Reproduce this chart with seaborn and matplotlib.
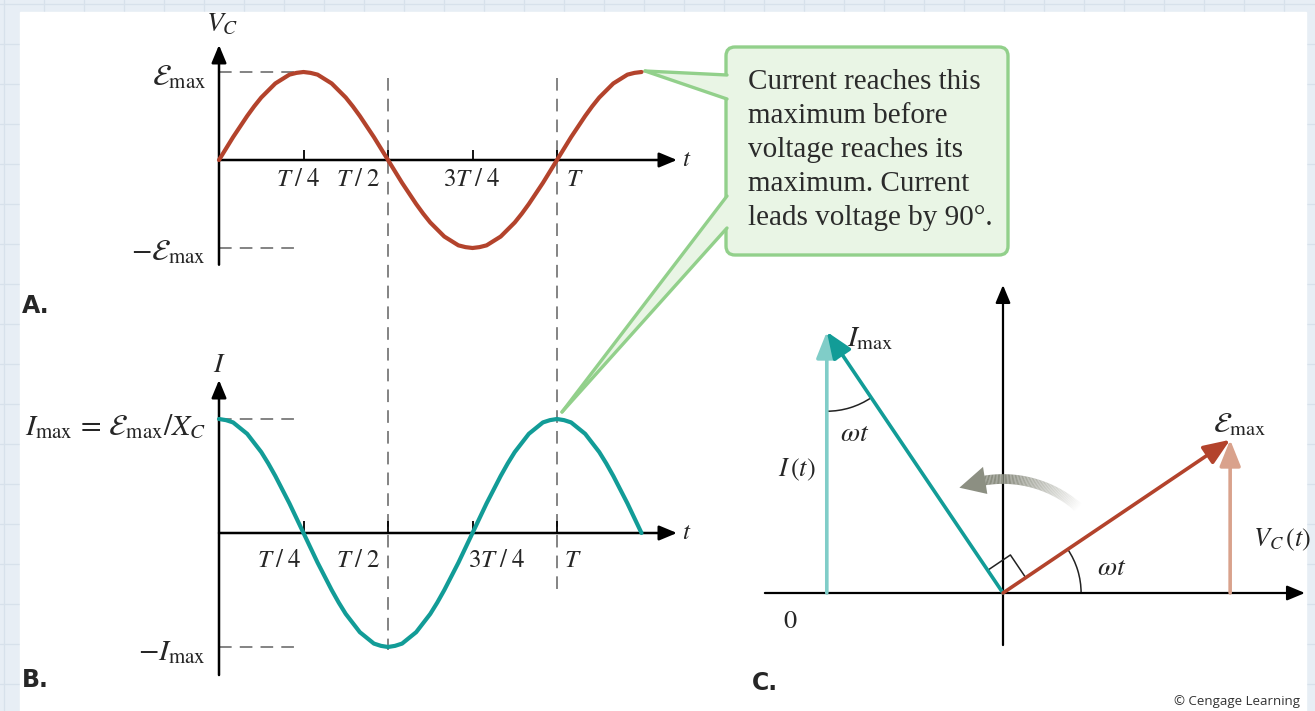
import numpy as np
import matplotlib
matplotlib.use("Agg")
import matplotlib.pyplot as plt
import seaborn as sns
from matplotlib.patches import Rectangle, FancyBboxPatch, Polygon, Arc
from matplotlib.collections import LineCollection

# ---------------- values ----------------
# curves sampled every T/48, both run from 0 to 1.25 T
t_frac = np.arange(61) / 48
vc_vals = [0, .13, .26, .38, .5, .61, .71, .79, .87, .92, .97, .99, 1,
           .99, .97, .92, .87, .79, .71, .61, .5, .38, .26, .13, 0,
           -.13, -.26, -.38, -.5, -.61, -.71, -.79, -.87, -.92, -.97, -.99, -1,
           -.99, -.97, -.92, -.87, -.79, -.71, -.61, -.5, -.38, -.26, -.13, 0,
           .13, .26, .38, .5, .61, .71, .79, .87, .92, .97, .99, 1]
i_vals = [1, .99, .97, .92, .87, .79, .71, .61, .5, .38, .26, .13, 0,
          -.13, -.26, -.38, -.5, -.61, -.71, -.79, -.87, -.92, -.97, -.99, -1,
          -.99, -.97, -.92, -.87, -.79, -.71, -.61, -.5, -.38, -.26, -.13, 0,
          .13, .26, .38, .5, .61, .71, .79, .87, .92, .97, .99, 1,
          .99, .97, .92, .87, .79, .71, .61, .5, .38, .26, .13, 0]
tick_pos = [0.25, 0.5, 0.75, 1.0]
tick_labels = [r"$T\;/\;4$", r"$T\;/\;2$", r"$3T\;/\;4$", r"$T$"]
guide_t = [0.5, 1.0]

# phasor diagram
omega_t_deg = 34
e_max_len = 1.0
i_max_len = 1.15

callout_lines = ["Current reaches this", "maximum before", "voltage reaches its",
                 "maximum. Current", "leads voltage by 90\u00b0."]

RED = "#b3432c"
TEAL = "#129c97"
LIGHT_TEAL = "#80cdc8"
SALMON = "#d9a28c"
DASH = "#7a7a7a"

sns.set_style("white")
plt.rcParams["mathtext.fontset"] = "stix"
plt.rcParams["font.family"] = ["Liberation Serif", "DejaVu Serif"]

W, H = 1315, 711
fig = plt.figure(figsize=(W / 100, H / 100), dpi=100)

# background: graph paper with a white sheet on top
bg = fig.add_axes([0, 0, 1, 1])
bg.set_xlim(0, W)
bg.set_ylim(H, 0)
bg.axis("off")
bg.add_patch(Rectangle((0, 0), W, H, color="#e7eef5", zorder=0))
for gx in range(4, W, 40):
    bg.axvline(gx, color="#d7e1eb", lw=0.9, zorder=0.5)
for gy in range(4, H, 40):
    bg.axhline(gy, color="#d7e1eb", lw=0.9, zorder=0.5)
bg.add_patch(Rectangle((20, 12), 1286, 710, color="white", zorder=1))


def px_axes(box, origin, sx, sy):
    x0, y0, x1, y1 = box
    ax = fig.add_axes([x0 / W, 1 - y1 / H, (x1 - x0) / W, (y1 - y0) / H])
    ax.patch.set_visible(False)
    ax.set_xlim((x0 - origin[0]) / sx, (x1 - origin[0]) / sx)
    ax.set_ylim((origin[1] - y1) / sy, (origin[1] - y0) / sy)
    return ax


def arrow(ax, start, end, color="black", lw=1.8, style="-|>,head_length=0.6,head_width=0.25", ms=18, z=2):
    ax.annotate("", xy=end, xytext=start, annotation_clip=False, zorder=z,
                arrowprops=dict(arrowstyle=style, color=color, lw=lw, mutation_scale=ms,
                                shrinkA=0, shrinkB=0))


axA = px_axes((100, 14, 720, 300), (219, 160), 338, 88)
axB = px_axes((100, 350, 720, 700), (219, 533), 338, 114)

# ---------------- panels A and B ----------------
bg.vlines([219 + 338 * g for g in guide_t], 78, [650, 592], colors=DASH, lw=1.3,
          linestyles=(0, (7, 4.5)), zorder=2)

panels = [
    (axA, vc_vals, RED, [1.307, -1.19], [-0.227, [0.234, 0.411, 0.746, 1.053]],
     [(0.94, r"$\mathcal{E}_{\mathrm{max}}$"), (-1.045, r"$-\mathcal{E}_{\mathrm{max}}$")],
     (0.01, 1.534, r"$V_C$"), 0.114, [0.24, 0.234]),
    (axB, i_vals, TEAL, [1.342, -1.246], [-0.246, [0.178, 0.411, 0.822, 1.047]],
     [(0.93, r"$I_{\mathrm{max}}\,=\,\mathcal{E}_{\mathrm{max}}/X_C$"), (-1.05, r"$-I_{\mathrm{max}}$")],
     (0.0, 1.47, r"$I$"), 0.105, [0.24, 0.24]),
]
for ax, vals, col, yext, (lab_y, lab_x), side, ylab, tlen, dash_end in panels:
    sns.lineplot(x=t_frac, y=vals, ax=ax, color=col, linewidth=3.0, legend=False, zorder=3)
    ax.axis("off")
    arrow(ax, (0, yext[1]), (0, yext[0]))
    arrow(ax, (0, 0), (1.355, 0))
    ax.text(1.37, 0, r"$t$", ha="left", va="center", fontsize=18)
    ax.vlines(tick_pos, 0, tlen, colors="black", lw=1.3, zorder=2)
    ax.hlines([1, -1], 0, dash_end, colors=DASH, lw=1.3, linestyles=(0, (7, 4.5)), zorder=1)
    for x, lab in zip(lab_x, tick_labels):
        ax.text(x, lab_y, lab, ha="center", va="center", fontsize=18)
    for y, lab in side:
        ax.text(-0.038, y, lab, ha="right", va="center", fontsize=21.5)
    ax.text(ylab[0], ylab[1], ylab[2], ha="center", va="center", fontsize=20)

for x, y, lab in [(22, 306, "A."), (22, 680, "B."), (752, 683, "C.")]:
    bg.text(x, y, lab, ha="left", va="center", fontsize=17, fontweight="bold",
            family=["Liberation Sans Narrow", "DejaVu Sans"], zorder=5)

# ---------------- callout ----------------
GREEN_EDGE = "#92d08b"
GREEN_FILL = "#e9f5e5"
bg.add_patch(FancyBboxPatch((726, 47), 282, 208, boxstyle="round,pad=0,rounding_size=9",
                            fc=GREEN_FILL, ec=GREEN_EDGE, lw=2.4, zorder=4))
for tip, base in [((645, 71), [(727, 75), (727, 99)]), ((562, 412), [(727, 196), (727, 228)])]:
    bg.add_patch(Polygon([tip, base[0], (731, base[0][1]), (731, base[1][1]), base[1]],
                         closed=True, fc=GREEN_FILL, ec="none", zorder=4.5))
    for b in base:
        bg.plot([tip[0], b[0]], [tip[1], b[1]], color=GREEN_EDGE, lw=2.4, zorder=4.6,
                solid_capstyle="round")
for k, line in enumerate(callout_lines):
    bg.text(748, 82 + 34 * k, line, ha="left", va="center", fontsize=21, color="#2b2b2b", zorder=5)

# ---------------- panel C: phasors ----------------
axC = px_axes((740, 262, 1315, 711), (1003, 593), 274, 274)
axC.axis("off")
arrow(axC, (-0.869, 0), (1.102, 0), lw=1.6)
arrow(axC, (0, -0.19), (0, 1.124), lw=1.6)

th = np.radians(omega_t_deg)
e_tip = np.array([np.cos(th), np.sin(th)]) * e_max_len
i_tip = np.array([np.cos(th + np.pi / 2), np.sin(th + np.pi / 2)]) * i_max_len
big = "-|>,head_length=0.8,head_width=0.32"
arrow(axC, (i_tip[0], 0), (i_tip[0], i_tip[1]), color=LIGHT_TEAL, lw=2.6, style=big, ms=20, z=3)
arrow(axC, (e_tip[0], 0), (e_tip[0], e_tip[1]), color=SALMON, lw=2.6, style=big, ms=20, z=3)
arrow(axC, (0, 0), tuple(i_tip), color=TEAL, lw=2.6, style=big, ms=20, z=4)
arrow(axC, (0, 0), tuple(e_tip), color=RED, lw=2.6, style=big, ms=20, z=4)

# right angle marker and angle arcs
ua = 0.1 * i_tip / i_max_len
ub = 0.1 * e_tip / e_max_len
sq = np.array([ua, ua + ub, ub])
axC.plot(sq[:, 0], sq[:, 1], color="#222222", lw=1.1, zorder=3)
axC.add_patch(Arc((0, 0), 0.57, 0.57, theta1=0, theta2=omega_t_deg, color="#222222", lw=1.1))
axC.add_patch(Arc(tuple(i_tip), 0.58, 0.58, theta1=270, theta2=270 + omega_t_deg,
                  color="#222222", lw=1.1))

# rotation arrow, fading toward its tail
r = 0.416
ang = np.radians(np.linspace(46, 101, 80))
pts = np.column_stack([r * np.cos(ang), r * np.sin(ang)])
segs = np.stack([pts[:-1], pts[1:]], axis=1)
fade = np.clip((np.degrees(ang[:-1]) - 48) / 40, 0, 1)
gray = np.array([0.55, 0.56, 0.51])
cols = [(1 - f) * np.ones(3) + f * gray for f in fade]
axC.add_collection(LineCollection(segs, colors=cols, linewidths=7, capstyle="butt", zorder=2))
hb, ht = np.radians(99), np.radians(112.5)
axC.add_patch(Polygon([((r - 0.05) * np.cos(hb), (r - 0.05) * np.sin(hb)),
                       (r * np.cos(ht), r * np.sin(ht)),
                       ((r + 0.05) * np.cos(hb), (r + 0.05) * np.sin(hb))],
                      closed=True, fc=gray, ec="none", zorder=2))

axC.text(-0.57, 0.93, r"$I_{\mathrm{max}}$", ha="left", va="center", fontsize=21)
axC.text(-0.54, 0.577, r"$\omega t$", ha="center", va="center", fontsize=20)
axC.text(-0.752, 0.449, r"$I\,(t)$", ha="center", va="center", fontsize=19)
axC.text(0.865, 0.613, r"$\mathcal{E}_{\mathrm{max}}$", ha="center", va="center", fontsize=21)
axC.text(1.02, 0.193, r"$V_C\,(t)$", ha="center", va="center", fontsize=19)
axC.text(0.398, 0.091, r"$\omega t$", ha="center", va="center", fontsize=20)
axC.text(-0.777, -0.106, r"$0$", ha="center", va="center", fontsize=19)

bg.text(1300, 702, "\u00a9 Cengage Learning", ha="right", va="center", fontsize=9.5,
        family=["Open Sans", "DejaVu Sans"], color="#333333", zorder=5)

fig.savefig("out.png", dpi=100)
